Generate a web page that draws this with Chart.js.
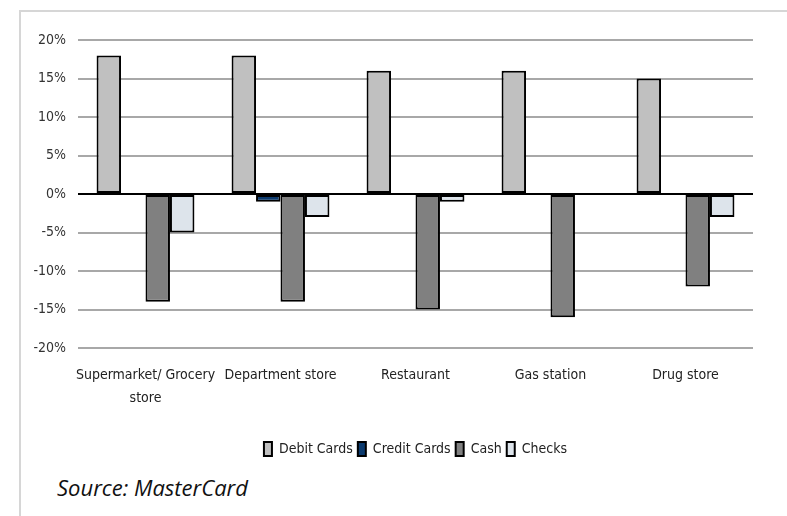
<!DOCTYPE html>
<html>
<head>
<meta charset="utf-8">
<script src="https://cdn.jsdelivr.net/npm/chart.js@4"></script>
<style>
  html, body { margin: 0; padding: 0; background: #ffffff; }
  body { width: 787px; height: 516px; position: relative; overflow: hidden; }
  #frame { position: absolute; left: 19px; top: 10px; width: 768px; height: 506px;
           border-left: 2px solid #d6d6d6; border-top: 2px solid #d6d6d6; box-sizing: border-box; }
  #wrap { position: absolute; left: 0; top: 0; width: 787px; height: 470px; }
  #source { position: absolute; left: 57px; top: 472px; font-family: "Open Sans", "Noto Sans", sans-serif;
            font-style: italic; font-size: 22px; color: #111; white-space: nowrap; }
</style>
</head>
<body>
<div id="frame"></div>
<div id="wrap"><canvas id="c" width="787" height="470"></canvas></div>
<div id="source">Source: MasterCard</div>
<script>
const categories = [["Supermarket/ Grocery", "store"], "Department store", "Restaurant", "Gas station", "Drug store"];
const seriesNames = ["Debit Cards", "Credit Cards", "Cash", "Checks"];
const debitCards = [18, 18, 16, 16, 15];
const creditCards = [0, -1, 0, 0, 0];
const cash = [-14, -14, -15, -16, -12];
const checks = [-5, -3, -1, 0, -3];
const yTicks = [-20, -15, -10, -5, 0, 5, 10, 15, 20];

const colors = ["#c0c0c0", "#0b3a6e", "#808080", "#dde4eb"];
const values = [debitCards, creditCards, cash, checks];
const FAMILY = "'DejaVu Sans', sans-serif";

const datasets = seriesNames.map((name, i) => ({
  label: name,
  data: values[i],
  backgroundColor: colors[i],
  borderColor: "#000000",
  borderWidth: 2,
  borderSkipped: false,
  barPercentage: 1.0,
  categoryPercentage: 0.725
}));

// center the legend under the plot area rather than under the whole canvas
const legendCenter = {
  id: "legendCenter",
  beforeDraw(chart) {
    const lg = chart.legend;
    if (!lg) return;
    const plotMid = (chart.chartArea.left + chart.chartArea.right) / 2;
    const lgMid = (lg.left + lg.right) / 2;
    const d = plotMid - lgMid;
    lg.left += d; lg.right += d;
  }
};

new Chart(document.getElementById("c"), {
  type: "bar",
  data: { labels: categories, datasets: datasets },
  plugins: [legendCenter],
  options: {
    responsive: false,
    animation: false,
    devicePixelRatio: 1,
    layout: { padding: { left: 0, top: 40, right: 34, bottom: 4 } },
    plugins: {
      legend: {
        position: "bottom",
        labels: {
          font: { family: FAMILY, weight: "condensed", size: 14 },
          color: "#222",
          boxWidth: 8,
          boxHeight: 14,
          padding: 5
        }
      },
      tooltip: { enabled: false }
    },
    scales: {
      x: {
        grid: { display: false, drawTicks: false },
        border: { display: false },
        ticks: {
          color: "#222",
          padding: 15,
          maxRotation: 0,
          autoSkip: false,
          font: { family: FAMILY, weight: "condensed", size: 14, lineHeight: 1.7 }
        },
        afterFit: (s) => { s.height = 89; }
      },
      y: {
        min: -20,
        max: 20,
        afterBuildTicks: (s) => { s.ticks = yTicks.map(v => ({ value: v })); },
        grid: {
          drawTicks: false,
          lineWidth: 2,
          color: (ctx) => (ctx.tick && ctx.tick.value === 0) ? "#000000" : "#a8a8a8"
        },
        border: { display: false },
        ticks: {
          color: "#333",
          padding: 12,
          font: { family: FAMILY, weight: "condensed", size: 14 },
          callback: (v) => v + "%"
        },
        afterFit: (s) => { s.width = 78; }
      }
    }
  }
});
</script>
</body>
</html>
